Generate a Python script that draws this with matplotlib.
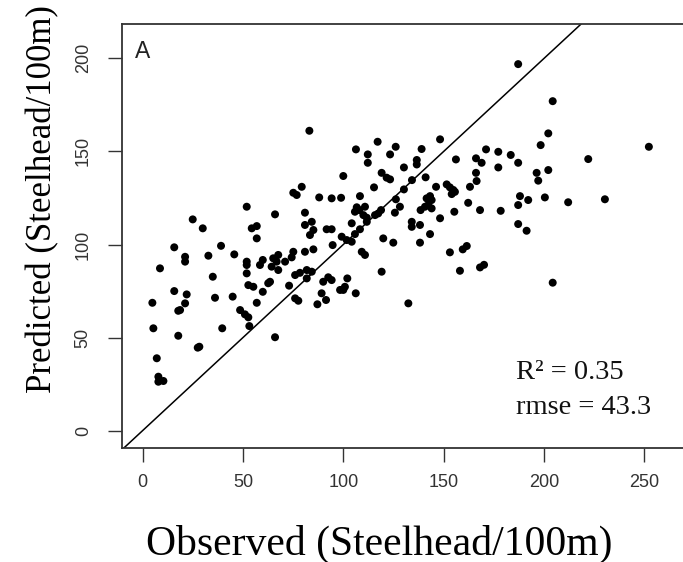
import matplotlib
matplotlib.use("Agg")
import matplotlib.pyplot as plt

plt.rcParams['font.family'] = ['Liberation Sans', 'DejaVu Sans']

# observed vs predicted steelhead density (fish / 100 m)
obs = [75.1, 76.8, 51.9, 66.0, 25.0, 83.1, 117.1, 106.3, 112.2, 112.2,
       126.1, 123.3, 139.0, 148.2, 136.6, 136.6, 156.1, 166.1, 168.9, 100.0,
       119.1, 121.6, 123.3, 130.2, 141.0, 134.2, 166.1, 166.4, 79.3, 115.3,
       130.2, 146.2, 151.5, 153.1, 154.8, 155.6, 154.0, 163.1, 88.0, 94.2,
       98.9, 108.3, 126.2, 106.7, 108.0, 110.8, 105.8, 110.0, 111.7, 118.8,
       117.4, 115.8, 128.2, 125.7, 141.5, 143.2, 144.0, 142.3, 140.7, 138.5,
       144.0, 155.3, 162.2, 168.1, 148.2, 80.9, 187.1, 204.3, 202.1, 198.3,
       252.2, 222.0, 171.1, 177.2, 183.4, 177.2, 187.1, 196.3, 197.1, 202.1,
       188.0, 187.1, 192.1, 200.4, 212.0, 230.3, 178.4, 30.0, 54.4, 56.9,
       56.9, 80.9, 84.3, 83.4, 91.7, 94.2, 104.2, 108.3, 111.7, 99.2,
       101.7, 104.2, 15.8, 8.7, 21.2, 21.2, 32.8, 39.1, 45.7, 51.9,
       51.9, 51.9, 59.9, 58.5, 65.1, 67.6, 66.8, 64.3, 67.6, 71.0,
       75.1, 74.3, 80.9, 85.1, 76.0, 78.4, 81.8, 84.3, 81.8, 94.7,
       109.2, 110.8, 35.0, 15.8, 22.0, 21.2, 18.7, 17.8, 4.9, 36.1,
       44.9, 52.7, 55.2, 63.5, 62.6, 59.9, 56.9, 73.0, 76.0, 77.6,
       90.0, 92.5, 94.2, 89.2, 91.4, 87.1, 98.4, 100.0, 100.8, 102.0,
       106.2, 48.6, 51.0, 52.7, 53.2, 5.4, 17.8, 39.7, 28.3, 27.5,
       66.0, 7.1, 7.9, 7.9, 10.4, 85.1, 105.8, 134.1, 134.1, 138.2,
       119.9, 124.9, 138.2, 143.2, 153.1, 159.5, 161.5, 187.1, 191.3, 119.1,
       158.1, 168.1, 170.1, 132.4, 204.3]
pred = [127.8, 126.6, 120.3, 116.2, 113.5, 161.1, 155.2, 151.1, 148.4, 143.9,
        152.5, 148.4, 151.3, 156.5, 145.4, 143.0, 145.7, 146.3, 143.9, 136.8,
        138.5, 135.9, 135.0, 141.4, 136.1, 134.6, 138.5, 134.1, 131.0, 130.7,
        129.6, 131.0, 132.3, 130.7, 129.3, 128.3, 127.1, 131.0, 125.3, 124.8,
        125.1, 126.0, 124.3, 120.0, 118.5, 120.3, 117.6, 115.8, 114.4, 118.5,
        116.7, 115.8, 120.3, 117.1, 124.8, 126.0, 123.9, 121.2, 120.3, 118.5,
        119.4, 117.6, 122.4, 118.5, 114.1, 117.1, 196.9, 177.0, 159.7, 153.4,
        152.5, 145.9, 151.1, 149.8, 148.1, 141.4, 143.9, 138.5, 134.3, 140.0,
        126.0, 121.2, 123.9, 125.3, 122.7, 124.3, 118.1, 108.7, 108.7, 109.9,
        103.3, 110.5, 112.2, 105.1, 108.2, 108.2, 111.4, 108.2, 112.2, 104.2,
        102.4, 101.5, 98.5, 87.2, 93.4, 90.8, 94.0, 99.3, 94.7, 90.8,
        89.0, 84.5, 91.7, 89.0, 92.6, 94.4, 90.8, 88.1, 86.3, 90.8,
        96.1, 93.1, 96.1, 97.4, 83.6, 84.8, 86.3, 85.4, 81.8, 99.7,
        96.1, 94.4, 82.7, 75.0, 73.2, 68.4, 64.8, 64.4, 68.7, 71.4,
        72.0, 78.2, 77.3, 80.0, 79.2, 74.6, 68.7, 77.9, 71.1, 69.8,
        80.0, 82.4, 80.9, 73.8, 70.2, 67.9, 75.6, 75.6, 77.3, 81.8,
        73.8, 64.8, 62.5, 60.9, 56.2, 55.0, 51.0, 55.0, 45.1, 44.6,
        50.2, 38.9, 29.0, 26.3, 26.7, 107.8, 105.6, 112.2, 109.5, 110.5,
        103.3, 101.0, 101.0, 105.6, 95.8, 97.4, 99.2, 111.0, 107.4, 85.4,
        85.9, 87.7, 89.1, 68.4, 79.5]

xticks = [0, 50, 100, 150, 200, 250]
yticks = [0, 50, 100, 150, 200]
r2_text = "R² = 0.35"
rmse_text = "rmse = 43.3"

fig = plt.figure(figsize=(6.83, 5.62), dpi=100)
# right side of the box is cut off in the original
ax = fig.add_axes([0.1791, 0.2034, 0.8209, 0.7534])

ax.scatter(obs, pred, s=33, c='black', edgecolors='none', zorder=3)
ax.plot([-20, 300], [-20, 300], color='black', lw=1.1, zorder=2)  # 1:1 line

ax.set_xlim(-10.06, 269.2)
ax.set_ylim(-9.13, 218.3)

ax.set_xticks(xticks, labels=[str(t) for t in xticks])
ax.set_yticks(yticks, labels=[str(t) for t in yticks], rotation=90, va='center')
ax.tick_params(axis='both', direction='out', length=10, width=1.0,
               color='#333333', labelcolor='#333333', labelsize=13)
ax.tick_params(axis='x', pad=9)
ax.tick_params(axis='y', pad=12)

for side in ['left', 'top', 'bottom']:
    ax.spines[side].set_color('#333333')
    ax.spines[side].set_linewidth(1.3)
ax.spines['right'].set_visible(False)

# labels and annotations (serif like the original)
fig.text(135 / 683, 1 - 58.3 / 562, "A", ha='left', va='baseline',
         fontsize=16.5, color='#222222', family=['Liberation Sans', 'DejaVu Sans'])
fig.text(516 / 683, 1 - 379 / 562, r2_text, ha='left', va='baseline',
         fontsize=20.5, color='#111111', family=['Liberation Serif', 'DejaVu Serif'])
fig.text(516 / 683, 1 - 414.3 / 562, rmse_text, ha='left', va='baseline',
         fontsize=20.5, color='#111111', family=['Liberation Serif', 'DejaVu Serif'])

fig.text(379.5 / 683, 1 - 544 / 562, "Observed (Steelhead/100m)", ha='center', va='center',
         fontsize=30, color='black', family=['Liberation Serif', 'DejaVu Serif'])
fig.text(43 / 683, 1 - 199 / 562, "Predicted (Steelhead/100m)", ha='center', va='center',
         rotation=90, fontsize=25, color='black', family=['Liberation Serif', 'DejaVu Serif'])

fig.savefig("out.png", dpi=100)
